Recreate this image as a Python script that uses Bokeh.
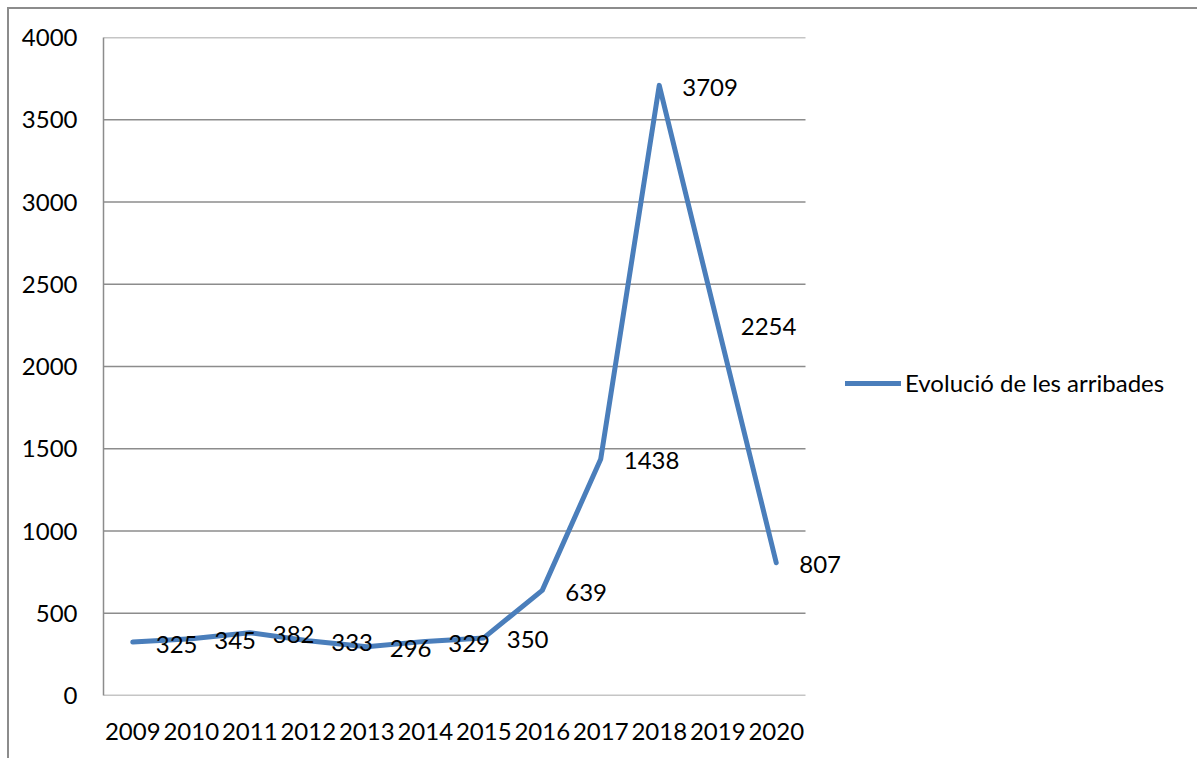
from bokeh.plotting import figure
from bokeh.models import (ColumnDataSource, Legend, LegendItem, FixedTicker, LabelSet,
                          InlineStyleSheet, Range1d)
from bokeh.core.properties import value
from bokeh.embed import file_html
from bokeh.resources import INLINE

years = ["2009", "2010", "2011", "2012", "2013", "2014", "2015", "2016", "2017", "2018", "2019", "2020"]
arrivals = [325, 345, 382, 333, 296, 329, 350, 639, 1438, 3709, 2254, 807]
series_name = "Evolució de les arribades"
y_ticks = [0, 500, 1000, 1500, 2000, 2500, 3000, 3500, 4000]

FONT = "Lato"
FS = "24px"
n = len(years)
xpos = [i + 0.5 for i in range(n)]
src = ColumnDataSource(dict(x=xpos, y=arrivals, lab=[str(v) for v in arrivals]))

# frame extends beyond the category area so that the last data label is not clipped
cat_px = 702.0
frame_w = 742
p = figure(frame_width=frame_w, frame_height=658,
           x_range=Range1d(0, n * frame_w / cat_px), y_range=Range1d(0, 4000),
           output_backend="svg", toolbar_location=None,
           min_border_left=103, min_border_right=0, min_border_top=37, min_border_bottom=63)
p.outline_line_color = None
p.background_fill_color = "white"
p.border_fill_color = "white"

# horizontal gridlines limited to the category area
p.segment(x0=[0] * len(y_ticks), x1=[n] * len(y_ticks), y0=y_ticks, y1=y_ticks,
          line_color="#8c8c8c", line_width=1.5)
p.xgrid.grid_line_color = None
p.ygrid.grid_line_color = None

r = p.line("x", "y", source=src, line_color="#4a7ebb", line_width=5, line_cap="round", line_join="round")

labels = LabelSet(x="x", y="y", text="lab", source=src, x_offset=23, y_offset=-2,
                  text_align="left", text_baseline="middle", text_font=value(FONT),
                  text_font_size=FS, text_color="#000000")
p.add_layout(labels)

p.yaxis.ticker = FixedTicker(ticks=y_ticks)
p.xaxis.ticker = FixedTicker(ticks=xpos)
p.xaxis.major_label_overrides = {x: y for x, y in zip(xpos, years)}

for ax in (p.xaxis, p.yaxis):
    ax.major_tick_line_color = None
    ax.minor_tick_line_color = None
    ax.major_label_text_font = FONT
    ax.major_label_text_font_size = FS
    ax.major_label_text_color = "#000000"
p.yaxis.axis_line_color = "#8c8c8c"
p.yaxis.axis_line_width = 1.5
p.xaxis.axis_line_color = None
p.yaxis.major_label_standoff = 20
p.xaxis.major_label_standoff = 21

legend = Legend(items=[LegendItem(label=series_name, renderers=[r])],
                location=(0, 298), label_text_font=FONT, label_text_font_size=FS,
                label_text_color="#000000", glyph_width=56, label_standoff=4,
                border_line_color=None, background_fill_alpha=0, padding=0, margin=0)
p.add_layout(legend, "right")

p.stylesheets = [InlineStyleSheet(css=(
    ":host{position:relative;overflow:visible;}"
    ":host::after{content:'';position:absolute;left:7px;top:7px;width:1190px;height:751px;"
    "box-sizing:border-box;border-left:2px solid #8c8c8c;border-top:2px solid #8c8c8c;"
    "pointer-events:none;}"))]

open("out.html", "w").write(file_html(p, INLINE))
